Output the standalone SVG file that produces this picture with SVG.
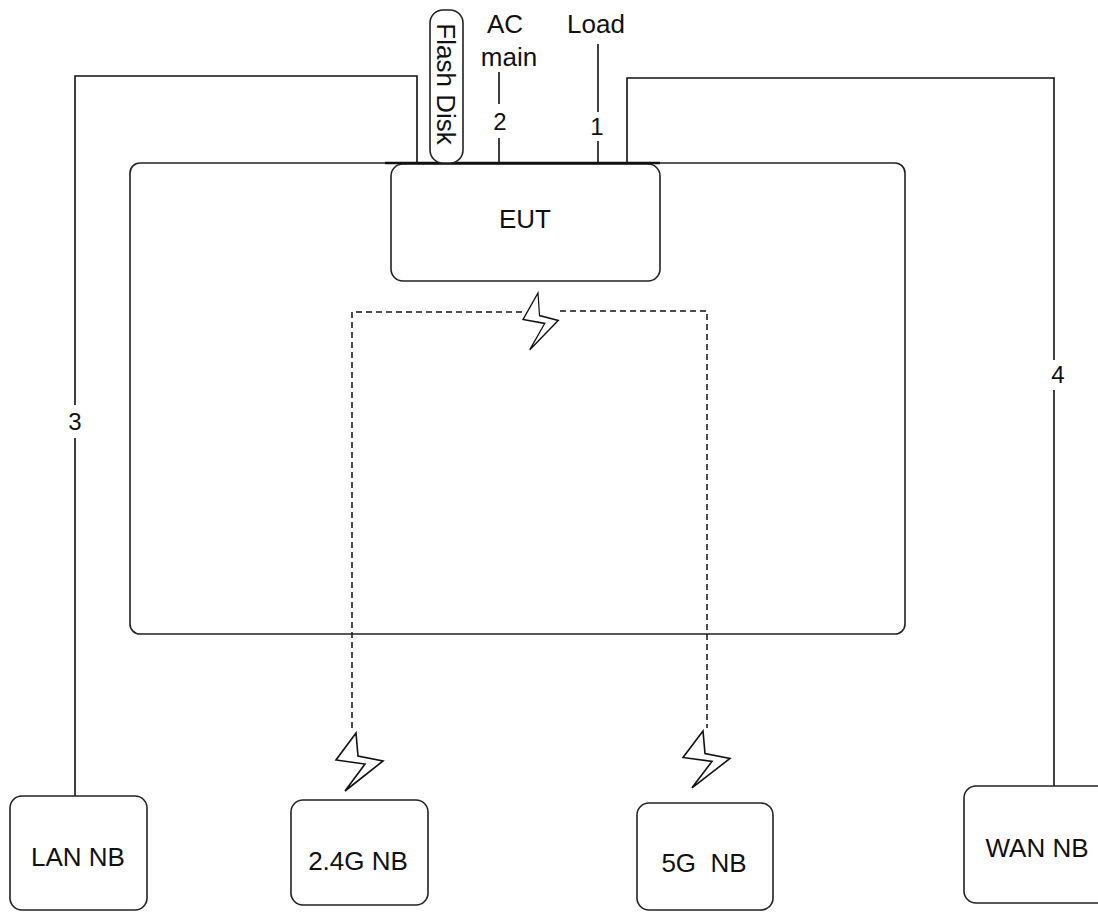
<svg xmlns="http://www.w3.org/2000/svg" width="1098" height="912" viewBox="0 0 1098 912">
<style>
.box{fill:#fff;stroke:#222;stroke-width:1.6}
.ln{fill:none;stroke:#111;stroke-width:1.6}
.dash{fill:none;stroke:#111;stroke-width:1.5;stroke-dasharray:6 4}
.bolt{fill:#fff;stroke:#111;stroke-width:1.6;stroke-linejoin:miter}
text{font-family:"Liberation Sans",Arial,sans-serif;fill:#111}
.lbl{font-size:26px;text-anchor:middle}
.num{font-size:24px;text-anchor:middle}
</style>
<defs>
<path id="bolt" d="M0,0 L-20,27 L9,31 L-11,58 L27,28 L2,23 Z"/>
</defs>
<rect width="1098" height="912" fill="#fff"/>
<g id="enclosure"><rect class="box" x="130" y="163" width="775" height="471" rx="10"/></g>
<g id="connectors">
<polyline class="ln" points="417,163 417,76 75,76 75,405"/>
<line class="ln" x1="75" y1="438" x2="75" y2="796"/>
<polyline class="ln" points="627,163 627,78 1054,78 1054,360"/>
<line class="ln" x1="1054" y1="390" x2="1054" y2="786"/>
<line class="ln" x1="499" y1="72" x2="499" y2="104"/>
<line class="ln" x1="499" y1="138" x2="499" y2="164"/>
<line class="ln" x1="598" y1="44" x2="598" y2="112"/>
<line class="ln" x1="598" y1="141" x2="598" y2="164"/>
<polyline class="dash" points="352,728 352,312 522,312"/>
<polyline class="dash" points="560,311 707,311 707,728"/>
<text class="num" x="75" y="430">3</text>
<text class="num" x="1058" y="383">4</text>
<text class="num" x="500" y="130">2</text>
<text class="num" x="597" y="135">1</text>
</g>
<g id="eut">
<rect class="box" x="391" y="164" width="269" height="117" rx="12"/>
<line x1="385" y1="163" x2="660" y2="163" stroke="#111" stroke-width="2.6"/>
<text class="lbl" x="525" y="228" font-size="24">EUT</text>
</g>
<g id="flash-disk">
<rect class="box" x="430" y="10" width="33" height="153" rx="13"/>
<text class="lbl" transform="translate(446,84) rotate(90)" dy="0.35em" font-size="27">Flash Disk</text>
</g>
<g id="ac-main"><text class="lbl" x="505" y="33">AC</text><text class="lbl" x="509" y="66">main</text></g>
<g id="load"><text class="lbl" x="596" y="33">Load</text></g>
<g id="wireless">
<use href="#bolt" class="bolt" transform="translate(538,293) scale(0.75,0.98)"/>
<use href="#bolt" class="bolt" transform="translate(356,733) scale(1,1)"/>
<use href="#bolt" class="bolt" transform="translate(703,731) scale(1,0.98)"/>
</g>
<g id="lan-nb"><rect class="box" x="10" y="796" width="137" height="114" rx="12"/><text class="lbl" x="78" y="866">LAN NB</text></g>
<g id="nb-24g"><rect class="box" x="291" y="800" width="137" height="105" rx="12"/><text class="lbl" x="358" y="870">2.4G NB</text></g>
<g id="nb-5g"><rect class="box" x="637" y="803" width="136" height="107" rx="12"/><text class="lbl" x="704" y="872" xml:space="preserve">5G  NB</text></g>
<g id="wan-nb"><rect class="box" x="964" y="786" width="145" height="117" rx="12"/><text class="lbl" x="1037" y="857">WAN NB</text></g>
</svg>
